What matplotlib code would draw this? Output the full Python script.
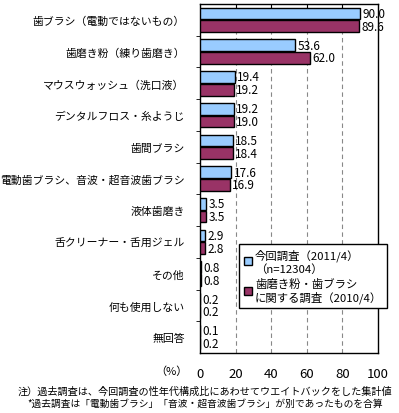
import matplotlib
matplotlib.use("Agg")
import matplotlib.pyplot as plt
from matplotlib.patches import Patch
import numpy as np

plt.rcParams['font.family'] = ['Noto Sans CJK JP', 'DejaVu Sans']

categories = ["歯ブラシ（電動ではないもの）", "歯磨き粉（練り歯磨き）", "マウスウォッシュ（洗口液）",
              "デンタルフロス・糸ようじ", "歯間ブラシ", "電動歯ブラシ、音波・超音波歯ブラシ",
              "液体歯磨き", "舌クリーナー・舌用ジェル", "その他", "何も使用しない", "無回答"]
current = [90.0, 53.6, 19.4, 19.2, 18.5, 17.6, 3.5, 2.9, 0.8, 0.2, 0.1]
past = [89.6, 62.0, 19.2, 19.0, 18.4, 16.9, 3.5, 2.8, 0.8, 0.2, 0.2]
xticks = [0, 20, 40, 60, 80, 100]
legend_labels = ["今回調査（2011/4）\n（n=12304）", "歯磨き粉・歯ブラシ\nに関する調査（2010/4）"]
notes = ["注）過去調査は、今回調査の性年代構成比にあわせてウエイトバックをした集計値",
         "*過去調査は「電動歯ブラシ」「音波・超音波歯ブラシ」が別であったものを合算"]

W, H = 399, 414
fig = plt.figure(figsize=(W / 100, H / 100), dpi=100)
ax = fig.add_axes([200 / W, 1 - 354 / H, 178 / W, 349 / H])

c_blue = "#99CCFF"
c_red = "#993366"
y = np.arange(len(categories))
h = 0.37
num_font = ['Liberation Sans Narrow', 'Noto Sans CJK JP', 'DejaVu Sans']
ax.barh(y - 0.2, current, height=h, color=c_blue, edgecolor="black", linewidth=1, zorder=3)
ax.barh(y + 0.2, past, height=h, color=c_red, edgecolor="black", linewidth=1, zorder=3)
for yi, v in zip(y, current):
    ax.text(v + 1.2, yi - 0.2, f"{v:.1f}", va="center", ha="left", fontsize=8.5, family=num_font, zorder=4)
for yi, v in zip(y, past):
    ax.text(v + 1.2, yi + 0.2, f"{v:.1f}", va="center", ha="left", fontsize=8.5, family=num_font, zorder=4)

ax.set_xlim(0, 100)
ax.set_ylim(len(categories) - 0.5, -0.5)
ax.set_xticks(xticks)
ax.set_xticklabels([str(t) for t in xticks], family=num_font, fontsize=9.5)
ax.tick_params(axis="x", length=0, pad=10)
for gx in xticks[1:-1]:
    ax.axvline(gx, color="#888888", linestyle=(0, (4, 3)), linewidth=0.8, zorder=1)
    ax.plot([gx, gx], [-0.5, -0.35], color="black", linewidth=0.8, zorder=2)

ax.set_yticks(np.arange(len(categories) - 1) + 0.5, minor=True)
ax.set_yticks(y)
ax.set_yticklabels(categories, fontsize=7.8)
ax.tick_params(axis="y", which="major", length=0, pad=11)
ax.tick_params(axis="y", which="minor", length=3, direction="out")
for s in ax.spines.values():
    s.set_linewidth(1)
    s.set_color("black")

fig.text(188 / W, 1 - 372 / H, "（%）", ha="right", va="center", fontsize=8)

handles = [Patch(facecolor=c_blue, edgecolor="black"), Patch(facecolor=c_red, edgecolor="black")]
leg = ax.legend(handles, legend_labels, loc="upper left", bbox_to_anchor=(0.219, 0.312),
                borderaxespad=0, fancybox=False, edgecolor="black", framealpha=1,
                fontsize=8.2, handlelength=0.7, handleheight=0.7, handletextpad=0.3,
                borderpad=0.4, labelspacing=0.35)
leg.get_frame().set_linewidth(1)

fig.text(18 / W, 1 - 392 / H, notes[0], ha="left", va="center", fontsize=7.3)
fig.text(27 / W, 1 - 404 / H, notes[1], ha="left", va="center", fontsize=7.0)

fig.savefig("out.png", dpi=100)
